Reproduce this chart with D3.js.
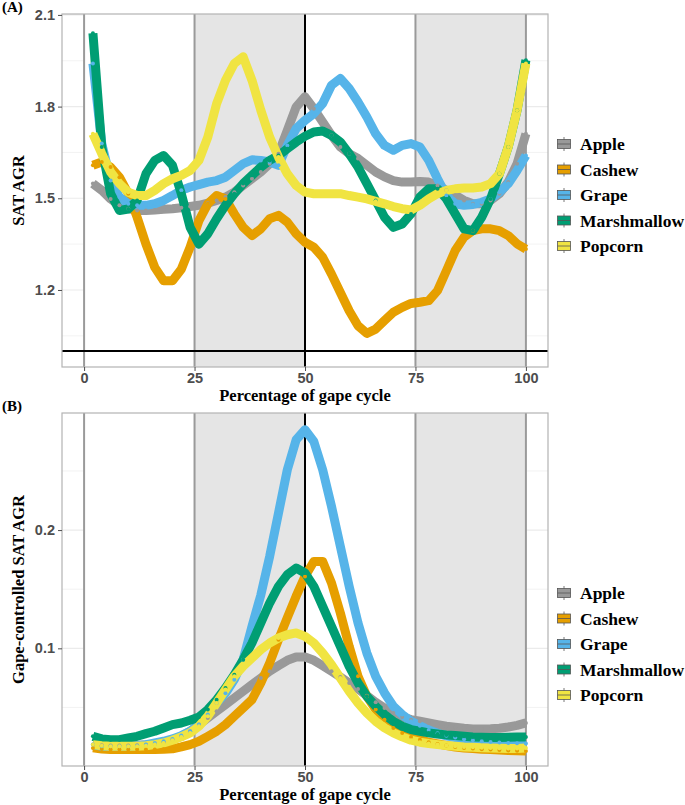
<!DOCTYPE html>
<html><head><meta charset="utf-8">
<script src="https://cdn.jsdelivr.net/npm/d3@7"></script>
<style>body{margin:0;background:#fff}svg{display:block}</style>
</head><body>
<svg id="chart" width="685" height="805"></svg>
<script>
const categories = ["Apple","Cashew","Grape","Marshmallow","Popcorn"];
const colors = ["#999999","#E69F00","#56B4E9","#009E73","#F0E442"];
const pct = [2,4,6,8,10,12,14,16,18,20,22,24,26,28,30,32,34,36,38,40,42,44,46,48,50,52,54,56,58,60,62,64,66,68,70,72,74,76,78,80,82,84,86,88,90,92,94,96,98,100];
const xTicks = [0,25,50,75,100];
const yTicksA = [1.2,1.5,1.8,2.1];
const yTicksB = [0.1,0.2];
const phaseBands = [[0,25,"#ffffff"],[25,50,"#e5e5e5"],[50,75,"#ffffff"],[75,100,"#e5e5e5"]];

const appleA = [1.548,1.526,1.498,1.477,1.466,1.46,1.46,1.462,1.464,1.466,1.469,1.473,1.477,1.484,1.493,1.504,1.52,1.542,1.564,1.586,1.613,1.646,1.722,1.799,1.832,1.793,1.75,1.706,1.668,1.646,1.63,1.608,1.586,1.57,1.558,1.553,1.553,1.555,1.553,1.542,1.526,1.51,1.493,1.482,1.482,1.493,1.515,1.553,1.613,1.711];
const cashewA = [1.608,1.619,1.602,1.569,1.515,1.438,1.35,1.274,1.23,1.23,1.268,1.34,1.427,1.482,1.509,1.498,1.449,1.405,1.378,1.4,1.433,1.444,1.422,1.384,1.356,1.34,1.307,1.252,1.192,1.132,1.083,1.058,1.072,1.1,1.127,1.143,1.156,1.16,1.165,1.198,1.263,1.329,1.373,1.394,1.4,1.4,1.394,1.378,1.351,1.334];
const grapeA = [1.941,1.679,1.558,1.504,1.482,1.477,1.477,1.482,1.493,1.509,1.526,1.537,1.545,1.553,1.558,1.569,1.591,1.613,1.626,1.624,1.619,1.608,1.673,1.728,1.755,1.777,1.81,1.87,1.892,1.859,1.815,1.766,1.711,1.673,1.657,1.673,1.679,1.668,1.624,1.564,1.509,1.482,1.477,1.48,1.487,1.498,1.52,1.548,1.591,1.64];
const marshmallowA = [2.04,1.668,1.515,1.46,1.465,1.493,1.58,1.624,1.64,1.608,1.515,1.405,1.35,1.384,1.433,1.477,1.515,1.548,1.575,1.602,1.624,1.64,1.662,1.684,1.703,1.717,1.72,1.706,1.684,1.646,1.602,1.548,1.493,1.438,1.405,1.416,1.449,1.504,1.531,1.531,1.498,1.449,1.4,1.394,1.438,1.498,1.58,1.668,1.788,1.952];
const popcornA = [1.711,1.646,1.586,1.548,1.52,1.509,1.509,1.526,1.548,1.564,1.575,1.591,1.624,1.7,1.81,1.886,1.941,1.963,1.886,1.788,1.7,1.635,1.58,1.542,1.52,1.515,1.515,1.515,1.515,1.509,1.504,1.498,1.49,1.482,1.473,1.466,1.462,1.477,1.498,1.515,1.526,1.531,1.534,1.534,1.537,1.548,1.58,1.668,1.788,1.941];

const appleB = [0.0186,0.018,0.0178,0.0178,0.0178,0.018,0.0184,0.019,0.0206,0.0228,0.0256,0.0299,0.0355,0.0411,0.0468,0.0524,0.058,0.0637,0.0693,0.0749,0.0806,0.0854,0.0899,0.0927,0.0927,0.0899,0.0854,0.0806,0.0758,0.0707,0.0656,0.06,0.0544,0.0496,0.0454,0.042,0.0397,0.0383,0.0369,0.0355,0.0341,0.0333,0.0324,0.0318,0.0318,0.032,0.0324,0.0335,0.0349,0.0369];
const cashewB = [0.0158,0.0149,0.0144,0.0144,0.0144,0.0144,0.0144,0.0144,0.0146,0.015,0.0166,0.0186,0.0214,0.0256,0.0299,0.0355,0.0425,0.0496,0.0566,0.0707,0.0876,0.1073,0.126,0.1441,0.1608,0.1735,0.1735,0.1552,0.1299,0.1017,0.0763,0.0594,0.0482,0.0397,0.0327,0.0285,0.0251,0.0228,0.0206,0.0192,0.0178,0.0166,0.0158,0.0152,0.0146,0.0144,0.014,0.0137,0.0134,0.0132];
const grapeB = [0.0186,0.0172,0.0172,0.0172,0.0172,0.0177,0.0186,0.02,0.0214,0.0234,0.0262,0.0299,0.0355,0.044,0.0538,0.062,0.0735,0.0904,0.1186,0.145,0.1777,0.2144,0.251,0.2763,0.2848,0.2749,0.251,0.22,0.1862,0.1524,0.1214,0.096,0.0763,0.0623,0.051,0.044,0.0383,0.0345,0.031,0.0282,0.026,0.0245,0.0232,0.0222,0.0214,0.0208,0.0203,0.02,0.0198,0.0196];
const marshmallowB = [0.0256,0.0234,0.0228,0.0228,0.0242,0.0256,0.0279,0.0299,0.0327,0.0355,0.0369,0.0392,0.042,0.0482,0.0566,0.0665,0.0777,0.0904,0.1045,0.1214,0.1383,0.1524,0.1623,0.1679,0.1637,0.1524,0.1355,0.1186,0.1017,0.0848,0.0707,0.0594,0.051,0.044,0.0383,0.0341,0.0313,0.0299,0.0285,0.0276,0.0268,0.0262,0.0256,0.0251,0.0248,0.0245,0.0245,0.0248,0.0251,0.025];
const popcornB = [0.0186,0.0177,0.0172,0.0172,0.0172,0.0172,0.0177,0.0186,0.02,0.0223,0.0251,0.0285,0.0341,0.0425,0.0538,0.0651,0.0763,0.0848,0.0918,0.0989,0.1045,0.1087,0.1115,0.113,0.1101,0.1045,0.0961,0.0862,0.0749,0.0637,0.0538,0.0454,0.0383,0.0327,0.0285,0.0251,0.0223,0.0206,0.0195,0.0186,0.0178,0.0172,0.0166,0.0163,0.016,0.0158,0.0155,0.0153,0.0153,0.0158];

const seriesA = [appleA,cashewA,grapeA,marshmallowA,popcornA];
const seriesB = [appleB,cashewB,grapeB,marshmallowB,popcornB];

const svg = d3.select("#chart");
const sans = "'Liberation Sans', Arial, sans-serif";
const serif = "'Liberation Serif', 'Times New Roman', serif";

function panel(cfg){
  const {top,bottom,yDomain,yTicks,minorTicks,series,label,yTitle,hline,legendY} = cfg;
  const left = 62, right = 548;
  const x = d3.scaleLinear().domain([-5,105]).range([left,right]);
  const y = d3.scaleLinear().domain(yDomain).range([bottom,top]);
  const g = svg.append("g");
  g.selectAll(".gmin").data(minorTicks).enter().append("line")
    .attr("x1",left).attr("x2",right).attr("y1",d=>y(d)).attr("y2",d=>y(d))
    .attr("stroke","#ebebeb").attr("stroke-width",0.6);
  g.selectAll(".gmaj").data(yTicks).enter().append("line")
    .attr("x1",left).attr("x2",right).attr("y1",d=>y(d)).attr("y2",d=>y(d))
    .attr("stroke","#ebebeb").attr("stroke-width",1.1);
  g.selectAll(".band").data(phaseBands).enter().append("rect")
    .attr("x",d=>x(d[0])).attr("width",d=>x(d[1])-x(d[0]))
    .attr("y",top).attr("height",bottom-top).attr("fill",d=>d[2]);
  g.selectAll(".vl").data(xTicks).enter().append("line")
    .attr("x1",d=>x(d)).attr("x2",d=>x(d)).attr("y1",top).attr("y2",bottom)
    .attr("stroke",d=>d===50?"#000":"#9a9a9a").attr("stroke-width",2);
  if(hline!==null){
    g.append("line").attr("x1",left).attr("x2",right).attr("y1",y(hline)).attr("y2",y(hline))
      .attr("stroke","#000").attr("stroke-width",2);
  }
  const line = d3.line().x((d,i)=>x(pct[i])).y(d=>y(d));
  series.forEach((s,k)=>{
    g.append("path").datum(s).attr("d",line).attr("fill","none")
      .attr("stroke",colors[k]).attr("stroke-width",9).attr("stroke-linejoin","round");
  });
  series.forEach((s,k)=>{
    g.selectAll(null).data(s).enter().append("circle")
      .attr("cx",(d,i)=>x(pct[i])).attr("cy",d=>y(d)).attr("r",2)
      .attr("fill",colors[k]);
  });
  g.append("rect").attr("x",left).attr("y",top).attr("width",right-left).attr("height",bottom-top)
    .attr("fill","none").attr("stroke","#b3b3b3").attr("stroke-width",1.2);
  const ax = g.append("g").attr("transform",`translate(0,${bottom})`)
    .call(d3.axisBottom(x).tickValues(xTicks).tickSize(4).tickPadding(2));
  const ay = g.append("g").attr("transform",`translate(${left},0)`)
    .call(d3.axisLeft(y).tickValues(yTicks).tickSize(4).tickPadding(3).tickFormat(d3.format(".1f")));
  [ax,ay].forEach(a=>{
    a.select(".domain").remove();
    a.selectAll(".tick line").attr("stroke","#4d4d4d").attr("stroke-width",1);
    a.selectAll("text").attr("fill","#4d4d4d").attr("font-family",sans)
      .attr("font-weight","bold").attr("font-size",14.5);
  });
  g.append("text").attr("x",(left+right)/2).attr("y",bottom+34).attr("text-anchor","middle")
    .attr("font-family",serif).attr("font-weight","bold").attr("font-size",16.5).attr("fill","#000")
    .text("Percentage of gape cycle");
  g.append("text").attr("transform",`translate(24,${(top+bottom)/2}) rotate(-90)`)
    .attr("text-anchor","middle").attr("font-family",serif).attr("font-weight","bold")
    .attr("font-size",16.5).attr("fill","#000").text(yTitle);
  g.append("text").attr("x",2).attr("y",top-2).attr("font-family",serif).attr("font-weight","bold")
    .attr("font-size",15).attr("fill","#000").text(label);
  const lg = g.append("g");
  categories.forEach((c,k)=>{
    const cy = legendY + k*25.5, cx = 564;
    lg.append("line").attr("x1",cx).attr("x2",cx).attr("y1",cy-7).attr("y2",cy+7)
      .attr("stroke","#555").attr("stroke-width",0.8);
    lg.append("rect").attr("x",cx-6.5).attr("y",cy-4.5).attr("width",13).attr("height",9)
      .attr("fill",colors[k]).attr("stroke","#555").attr("stroke-width",0.8);
    lg.append("line").attr("x1",cx-6.5).attr("x2",cx+6.5).attr("y1",cy).attr("y2",cy)
      .attr("stroke","#555").attr("stroke-width",0.8);
    lg.append("text").attr("x",580).attr("y",cy).attr("dy","0.35em")
      .attr("font-family",serif).attr("font-weight","bold").attr("font-size",17.5).attr("fill","#000")
      .text(c);
  });
}

panel({top:14,bottom:367,yDomain:[0.948,2.103],yTicks:yTicksA,minorTicks:[1.05,1.35,1.65,1.95],
  series:seriesA,label:"(A)",yTitle:"SAT AGR",hline:1.0,legendY:144});
panel({top:413,bottom:766,yDomain:[0.0005,0.299],yTicks:yTicksB,minorTicks:[0.05,0.15,0.25],
  series:seriesB,label:"(B)",yTitle:"Gape-controlled SAT AGR",hline:null,legendY:593});
</script>
</body></html>
